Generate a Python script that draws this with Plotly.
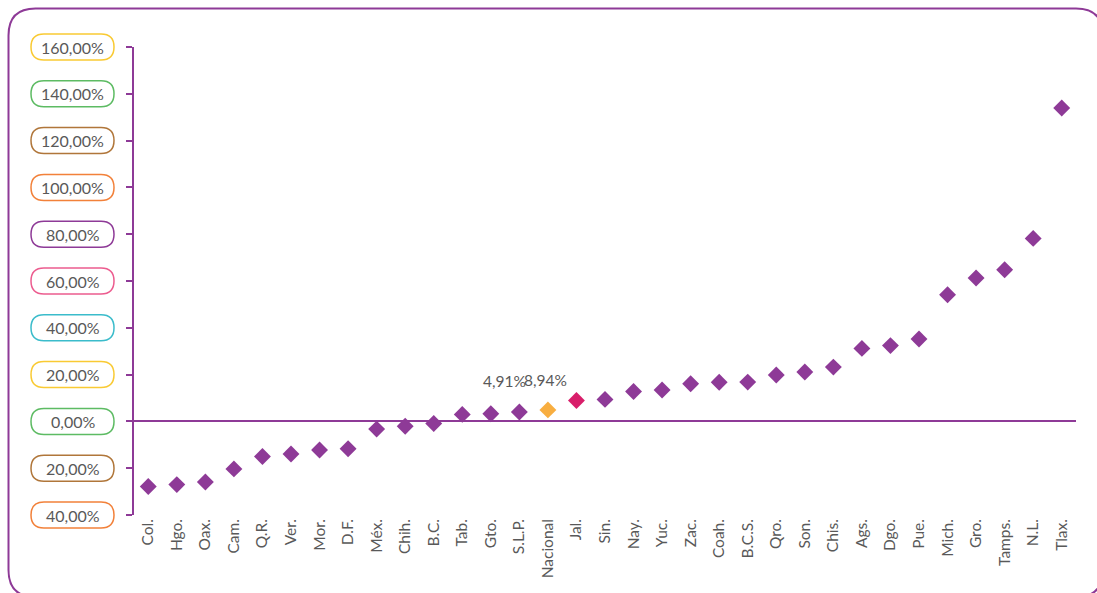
import plotly.graph_objects as go

# Variación porcentual por entidad federativa
estados = ["Col.", "Hgo.", "Oax.", "Cam.", "Q.R.", "Ver.", "Mor.", "D.F.", "Méx.", "Chih.",
           "B.C.", "Tab.", "Gto.", "S.L.P.", "Nacional", "Jal.", "Sin.", "Nay.", "Yuc.", "Zac.",
           "Coah.", "B.C.S.", "Qro.", "Son.", "Chis.", "Ags.", "Dgo.", "Pue.", "Mich.", "Gro.",
           "Tamps.", "N.L.", "Tlax."]
variacion = [-27.8, -27.0, -25.9, -20.3, -15.0, -13.9, -12.2, -11.7, -3.3, -2.1,
             -0.9, 3.0, 3.3, 4.0, 4.91, 8.94, 9.4, 12.8, 13.4, 16.1,
             16.7, 16.8, 19.8, 21.1, 23.2, 31.2, 32.4, 35.2, 54.1, 61.3,
             64.8, 78.2, 133.9]

# Etiquetas del eje vertical (píldoras de colores)
ticks_y = [160, 140, 120, 100, 80, 60, 40, 20, 0, -20, -40]
ticks_txt = ["160,00%", "140,00%", "120,00%", "100,00%", "80,00%", "60,00%",
             "40,00%", "20,00%", "0,00%", "20,00%", "40,00%"]
ticks_col = ["#F9CA33", "#5DBB63", "#B0763A", "#F2813A", "#8E3A97", "#EC5C8F",
             "#3BBCCB", "#F9CA33", "#5DBB63", "#B0763A", "#F2813A"]

# Entidades resaltadas y sus etiquetas de valor
resaltados = {"Nacional": "#F8AE40", "Jal.": "#D81E6A"}
etiquetas = {"Nacional": "4,91%", "Jal.": "8,94%"}

MORADO = "#8E3A97"
GRIS = "#595959"
FUENTE = "Lato"

W, H = 1097, 593
ML, MR, MT, MB = 134, 21, 47, 78
PW, PH = W - ML - MR, H - MT - MB
YMIN, YMAX = -40, 160


def px(x):
    return (x - ML) / PW


def py(y):
    return (H - MB - y) / PH


def rounded_rect(x0, y0, x1, y1, r):
    # path in paper coords from pixel rectangle with corner radius r
    pts = [
        f"M {px(x0 + r)},{py(y0)}",
        f"L {px(x1 - r)},{py(y0)}",
        f"Q {px(x1)},{py(y0)} {px(x1)},{py(y0 + r)}",
        f"L {px(x1)},{py(y1 - r)}",
        f"Q {px(x1)},{py(y1)} {px(x1 - r)},{py(y1)}",
        f"L {px(x0 + r)},{py(y1)}",
        f"Q {px(x0)},{py(y1)} {px(x0)},{py(y1 - r)}",
        f"L {px(x0)},{py(y0 + r)}",
        f"Q {px(x0)},{py(y0)} {px(x0 + r)},{py(y0)}",
        "Z",
    ]
    return " ".join(pts)


colores = [resaltados.get(e, MORADO) for e in estados]

fig = go.Figure(go.Scatter(
    x=estados, y=variacion, mode="markers",
    marker=dict(symbol="diamond", size=13, color=colores),
    hoverinfo="x+y", showlegend=False,
))

shapes = []
annotations = []

# Marco exterior redondeado
shapes.append(dict(type="path", xref="paper", yref="paper",
                   path=rounded_rect(8.5, 8.5, 1103, 597, 27),
                   line=dict(color=MORADO, width=2), fillcolor="rgba(0,0,0,0)", layer="below"))

# Píldoras con las etiquetas del eje Y
y_per_px = PH / (YMAX - YMIN)
for v, t, c in zip(ticks_y, ticks_txt, ticks_col):
    cy = H - MB - (v - YMIN) * y_per_px
    shapes.append(dict(type="path", xref="paper", yref="paper",
                       path=rounded_rect(31, cy - 13, 114, cy + 13, 13),
                       line=dict(color=c, width=1.5), fillcolor="white"))
    annotations.append(dict(xref="paper", yref="paper", x=px(72.5), y=py(cy),
                            text=t, showarrow=False, xanchor="center", yanchor="middle",
                            font=dict(family=FUENTE, size=16, color=GRIS)))

# Etiquetas de valor
shifts = {"Nacional": (-43, 29), "Jal.": (-31, 20)}
for e, t in etiquetas.items():
    i = estados.index(e)
    dx, dy = shifts[e]
    annotations.append(dict(x=e, y=variacion[i], xref="x", yref="y", text=t,
                            showarrow=False, xshift=dx, yshift=dy,
                            font=dict(family=FUENTE, size=15.5, color=GRIS)))

fig.update_layout(
    width=W, height=H,
    margin=dict(l=ML, r=MR, t=MT, b=MB, autoexpand=False),
    paper_bgcolor="white", plot_bgcolor="white",
    font=dict(family=FUENTE, color=GRIS),
    shapes=shapes, annotations=annotations,
    xaxis=dict(type="category", tickangle=-90, showgrid=False, zeroline=False,
               showline=False, ticks="", tickfont=dict(family=FUENTE, size=15.5, color=GRIS),
               range=[-0.5, len(estados) - 0.5], fixedrange=True),
    yaxis=dict(range=[YMIN, YMAX], tickvals=ticks_y, showticklabels=False,
               showgrid=False, showline=True, linecolor=MORADO, linewidth=2,
               ticks="outside", ticklen=6, tickcolor=MORADO, tickwidth=2,
               zeroline=True, zerolinecolor=MORADO, zerolinewidth=1.5, fixedrange=True),
)

fig.write_html("out.html")
